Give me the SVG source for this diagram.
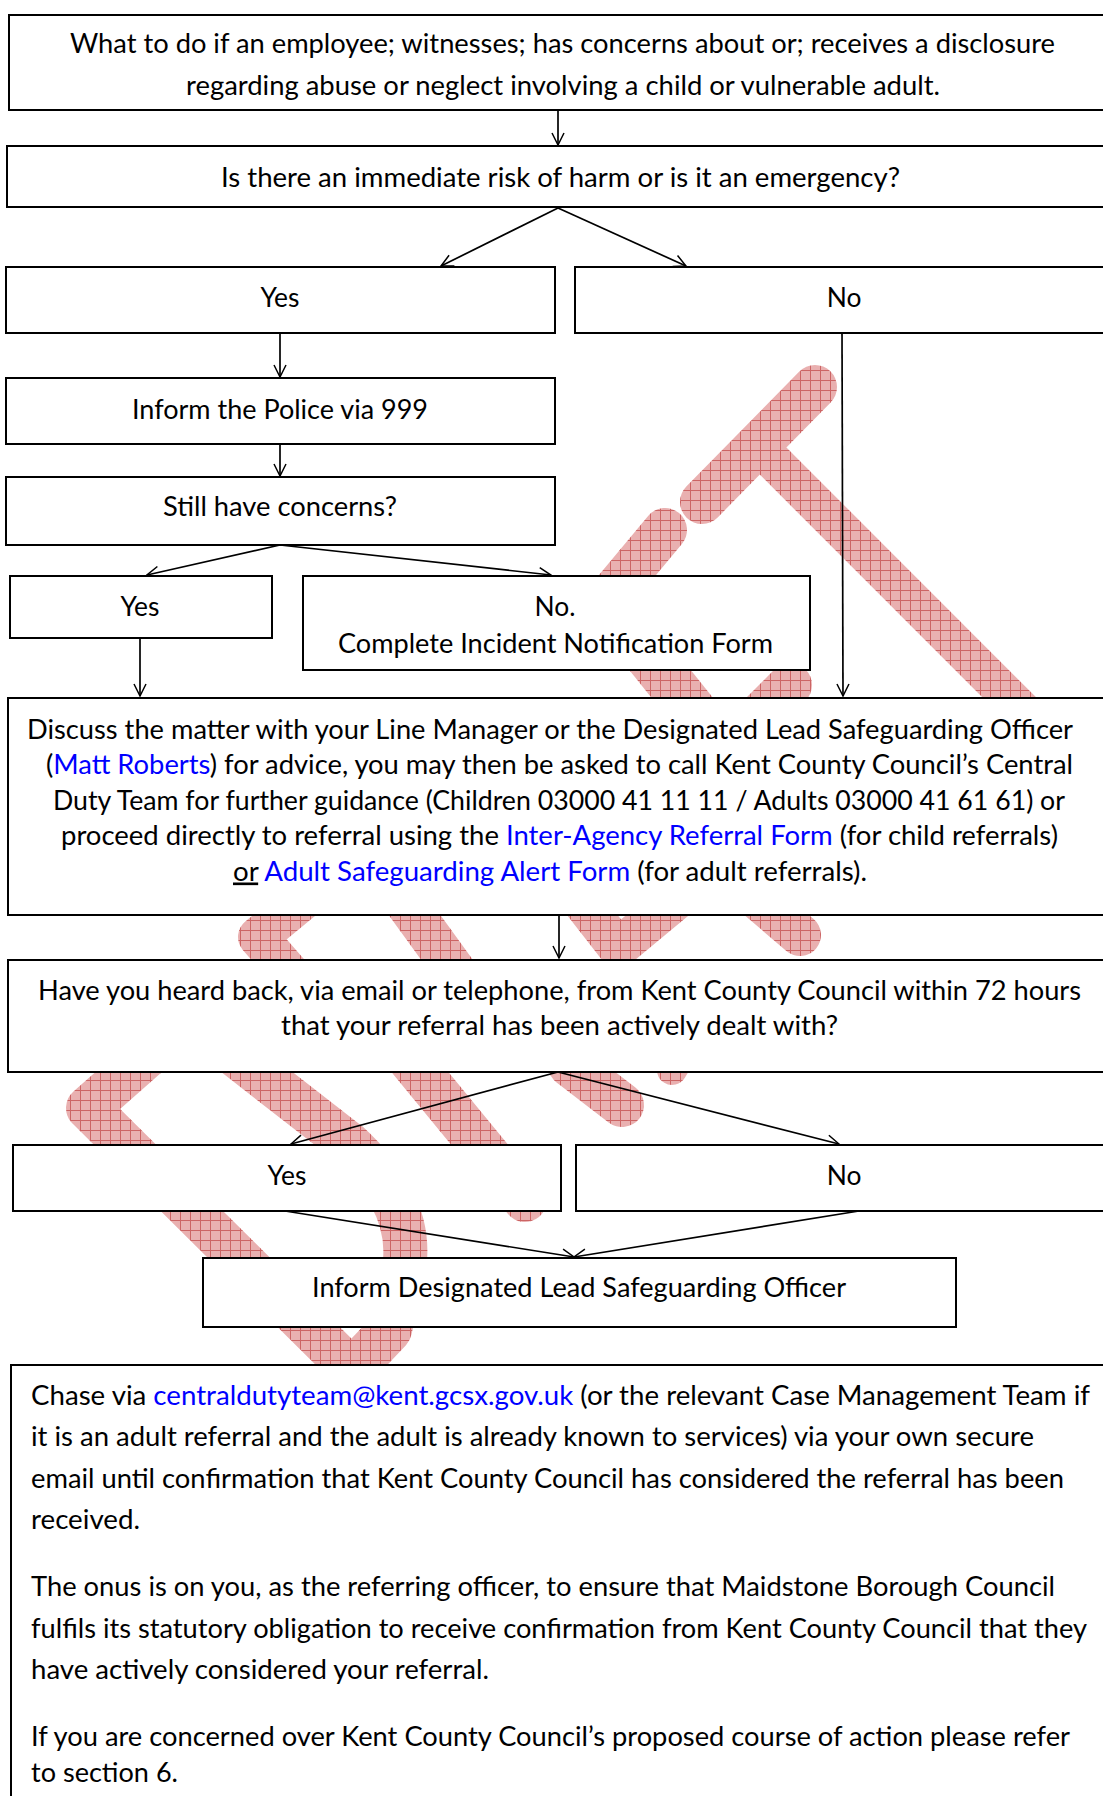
<svg xmlns="http://www.w3.org/2000/svg" width="1103" height="1796" viewBox="0 0 1103 1796">
<defs>
<style>
.box{fill:#fff;stroke:#000;stroke-width:2}
.t{font-family:Lato,"Liberation Sans",sans-serif;font-size:26.4px;fill:#000}
.c{text-anchor:middle}
.lnk{fill:#0000ff}
.con{fill:none;stroke:#000;stroke-width:1.7}
.wm{fill:none;stroke:url(#wmp);stroke-linecap:round;stroke-linejoin:round}
</style>
<pattern id="wmp" width="10" height="10" patternUnits="userSpaceOnUse">
<rect width="10" height="10" fill="#e9b0b0"/>
<path d="M0,0.5H10M0.5,0V10" stroke="#cc6464" stroke-width="1"/>
</pattern>
<marker id="ah" viewBox="0 0 14 14" markerWidth="14" markerHeight="14" refX="13" refY="7" orient="auto" markerUnits="userSpaceOnUse">
<path d="M1,1 L13,7 L1,13" fill="none" stroke="#000" stroke-width="1.5"/>
</marker>
</defs>
<rect width="1103" height="1796" fill="#fff"/>

<g id="watermark" class="wm">
<path d="M702,502 L815,387" stroke-width="44"/>
<path d="M750,438 L1030,718" stroke-width="38" stroke-linecap="butt"/>
<path d="M665,530 L590,620" stroke-width="44"/>
<path d="M640,645 L700,720" stroke-width="48"/>
<path d="M790,685 L730,745" stroke-width="44"/>
<path d="M315,890 L258,937 L300,985" stroke-width="40"/>
<path d="M400,895 L458,975" stroke-width="42"/>
<path d="M565,880 L618,948 L700,880" stroke-width="40"/>
<path d="M745,888 L800,935" stroke-width="42"/>
<path d="M165,1040 L88,1108 L352,1370" stroke-width="44"/>
<path d="M235,1055 L348,1143 Q410,1200 405,1260 L390,1330 L352,1370" stroke-width="44"/>
<path d="M410,1060 L525,1200" stroke-width="44"/>
<path d="M570,1065 L622,1105" stroke-width="44"/>
<path d="M690,1040 L672,1070" stroke-width="30"/>
</g>

<g id="connectors" class="con">
<path d="M558,110 V145" marker-end="url(#ah)"/>
<path d="M558,208 L441,266" marker-end="url(#ah)"/>
<path d="M558,208 L686,266" marker-end="url(#ah)"/>
<path d="M280,333 V377" marker-end="url(#ah)"/>
<path d="M280,444 V476" marker-end="url(#ah)"/>
<path d="M280,545 L147,575" marker-end="url(#ah)"/>
<path d="M280,545 L551,575" marker-end="url(#ah)"/>
<path d="M140,638 V696" marker-end="url(#ah)"/>
<path d="M842,333 L843,696" marker-end="url(#ah)"/>
<path d="M559,915 V958" marker-end="url(#ah)"/>
<path d="M558,1072 L291,1144" marker-end="url(#ah)"/>
<path d="M558,1072 L839,1144" marker-end="url(#ah)"/>
<path d="M285,1211 L574,1257" marker-end="url(#ah)"/>
<path d="M859,1211 L574,1257" marker-end="url(#ah)"/>
</g>

<g id="n-start">
<rect class="box" x="9" y="15" width="1110" height="95"/>
<text class="t" x="70" y="52.5" textLength="985" lengthAdjust="spacingAndGlyphs">What to do if an employee; witnesses; has concerns about or; receives a disclosure</text>
<text class="t" x="186" y="94.5" textLength="754" lengthAdjust="spacingAndGlyphs">regarding abuse or neglect involving a child or vulnerable adult.</text>
</g>

<g id="n-risk">
<rect class="box" x="7" y="146" width="1112" height="61"/>
<text class="t" x="221" y="186.5" textLength="679" lengthAdjust="spacingAndGlyphs">Is there an immediate risk of harm or is it an emergency?</text>
</g>

<g id="n-yes1">
<rect class="box" x="6" y="267" width="549" height="66"/>
<text class="t c" x="280" y="306.5">Yes</text>
</g>

<g id="n-no1">
<rect class="box" x="575" y="267" width="544" height="66"/>
<text class="t c" x="844" y="306.5">No</text>
</g>

<g id="n-police">
<rect class="box" x="6" y="378" width="549" height="66"/>
<text class="t" x="132" y="418.5" textLength="296" lengthAdjust="spacingAndGlyphs">Inform the Police via 999</text>
</g>

<g id="n-still">
<rect class="box" x="6" y="477" width="549" height="68"/>
<text class="t" x="163" y="515.5" textLength="234" lengthAdjust="spacingAndGlyphs">Still have concerns?</text>
</g>

<g id="n-yes2">
<rect class="box" x="10" y="576" width="262" height="62"/>
<text class="t c" x="140" y="615.5">Yes</text>
</g>

<g id="n-no2">
<rect class="box" x="303" y="576" width="507" height="94"/>
<text class="t c" x="555" y="615.5">No.</text>
<text class="t" x="338" y="652.5" textLength="435" lengthAdjust="spacingAndGlyphs">Complete Incident Notification Form</text>
</g>

<g id="n-discuss">
<rect class="box" x="8" y="698" width="1111" height="217"/>
<text class="t" x="27" y="738.5" textLength="1046" lengthAdjust="spacingAndGlyphs">Discuss the matter with your Line Manager or the Designated Lead Safeguarding Officer</text>
<text class="t" x="46" y="773.5" textLength="1027" lengthAdjust="spacingAndGlyphs">(<tspan class="lnk">Matt Roberts</tspan>) for advice, you may then be asked to call Kent County Council’s Central</text>
<text class="t" x="53" y="809.5" textLength="1012" lengthAdjust="spacingAndGlyphs">Duty Team for further guidance (Children 03000 41 11 11 / Adults 03000 41 61 61) or</text>
<text class="t" x="61" y="844.5" textLength="997" lengthAdjust="spacingAndGlyphs">proceed directly to referral using the <tspan class="lnk">Inter-Agency Referral Form</tspan> (for child referrals)</text>
<text class="t" x="233" y="880.5" textLength="634" lengthAdjust="spacingAndGlyphs"><tspan text-decoration="underline">or</tspan> <tspan class="lnk">Adult Safeguarding Alert Form</tspan> (for adult referrals).</text>
</g>

<g id="n-heard">
<rect class="box" x="8" y="960" width="1111" height="112"/>
<text class="t" x="38" y="999.5" textLength="1043" lengthAdjust="spacingAndGlyphs">Have you heard back, via email or telephone, from Kent County Council within 72 hours</text>
<text class="t" x="281" y="1034.5" textLength="557" lengthAdjust="spacingAndGlyphs">that your referral has been actively dealt with?</text>
</g>

<g id="n-yes3">
<rect class="box" x="13" y="1145" width="548" height="66"/>
<text class="t c" x="287" y="1184.5">Yes</text>
</g>

<g id="n-no3">
<rect class="box" x="576" y="1145" width="543" height="66"/>
<text class="t c" x="844" y="1184.5">No</text>
</g>

<g id="n-inform">
<rect class="box" x="203" y="1258" width="753" height="69"/>
<text class="t" x="312" y="1296.5" textLength="534" lengthAdjust="spacingAndGlyphs">Inform Designated Lead Safeguarding Officer</text>
</g>

<g id="n-chase">
<rect class="box" x="11" y="1365" width="1108" height="440"/>
<text class="t" x="31" y="1404.5" textLength="1059" lengthAdjust="spacingAndGlyphs">Chase via <tspan class="lnk">centraldutyteam@kent.gcsx.gov.uk</tspan> (or the relevant Case Management Team if</text>
<text class="t" x="31" y="1445.5" textLength="1003" lengthAdjust="spacingAndGlyphs">it is an adult referral and the adult is already known to services) via your own secure</text>
<text class="t" x="31" y="1487.5" textLength="1033" lengthAdjust="spacingAndGlyphs">email until confirmation that Kent County Council has considered the referral has been</text>
<text class="t" x="31" y="1528.5" textLength="109" lengthAdjust="spacingAndGlyphs">received.</text>
<text class="t" x="31" y="1595.5" textLength="1024" lengthAdjust="spacingAndGlyphs">The onus is on you, as the referring officer, to ensure that Maidstone Borough Council</text>
<text class="t" x="31" y="1637.5" textLength="1056" lengthAdjust="spacingAndGlyphs">fulfils its statutory obligation to receive confirmation from Kent County Council that they</text>
<text class="t" x="31" y="1678.5" textLength="458" lengthAdjust="spacingAndGlyphs">have actively considered your referral.</text>
<text class="t" x="31" y="1745.5" textLength="1039" lengthAdjust="spacingAndGlyphs">If you are concerned over Kent County Council’s proposed course of action please refer</text>
<text class="t" x="31" y="1781.5" textLength="147" lengthAdjust="spacingAndGlyphs">to section 6.</text>
</g>
</svg>
